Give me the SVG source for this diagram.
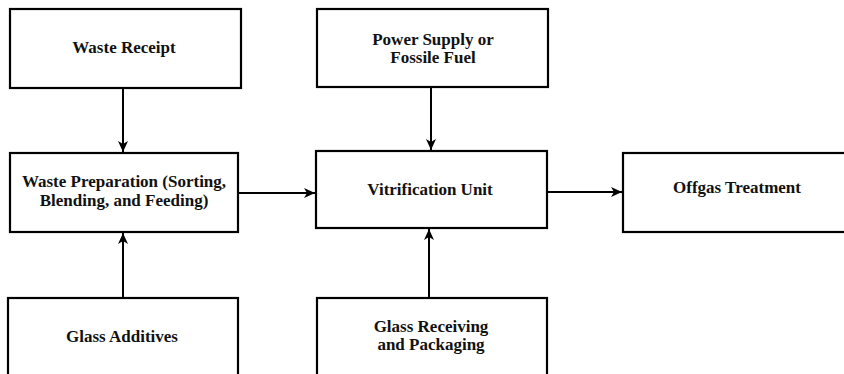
<svg xmlns="http://www.w3.org/2000/svg" width="844" height="374" viewBox="0 0 844 374">
<style>
.box{fill:#fff;stroke:#000;stroke-width:2.2}
.lbl{font-family:'Liberation Serif','DejaVu Serif',serif;font-size:17px;font-weight:700;text-anchor:middle;fill:#111}
.con{stroke:#000;stroke-width:2;fill:none}
</style>
<defs>
<marker id="ah" markerWidth="12" markerHeight="10" refX="11" refY="5" orient="auto" markerUnits="userSpaceOnUse">
<path d="M0,0 L11,5 L0,10 L3,5 Z" fill="#000"/>
</marker>
</defs>
<rect width="844" height="374" fill="#fff"/>
<g id="waste-receipt"><rect class="box" x="10" y="9" width="231" height="79"/><text class="lbl" x="124" y="53">Waste Receipt</text></g>
<g id="waste-preparation"><rect class="box" x="10" y="153" width="228" height="79"/><text class="lbl" x="124" y="187">Waste Preparation (Sorting,</text><text class="lbl" x="124" y="206">Blending, and Feeding)</text></g>
<g id="power-supply"><rect class="box" x="317" y="9" width="231" height="78"/><text class="lbl" x="433" y="45">Power Supply or</text><text class="lbl" x="433" y="63">Fossile Fuel</text></g>
<g id="vitrification-unit"><rect class="box" x="316" y="151" width="231" height="77"/><text class="lbl" x="430" y="195">Vitrification Unit</text></g>
<g id="offgas-treatment"><rect class="box" x="623" y="153" width="230" height="79"/><text class="lbl" x="737" y="193">Offgas Treatment</text></g>
<g id="glass-additives"><rect class="box" x="8" y="298" width="230" height="90"/><text class="lbl" x="122" y="342">Glass Additives</text></g>
<g id="glass-receiving"><rect class="box" x="317" y="298" width="230" height="90"/><text class="lbl" x="431" y="332">Glass Receiving</text><text class="lbl" x="431" y="350">and Packaging</text></g>
<g id="connectors">
<line class="con" x1="123" y1="88" x2="123" y2="152" marker-end="url(#ah)"/>
<line class="con" x1="123" y1="298" x2="123" y2="233" marker-end="url(#ah)"/>
<line class="con" x1="238" y1="193" x2="315" y2="193" marker-end="url(#ah)"/>
<line class="con" x1="431" y1="87" x2="431" y2="150" marker-end="url(#ah)"/>
<line class="con" x1="429" y1="298" x2="429" y2="229" marker-end="url(#ah)"/>
<line class="con" x1="547" y1="192" x2="622" y2="192" marker-end="url(#ah)"/>
</g>
</svg>
